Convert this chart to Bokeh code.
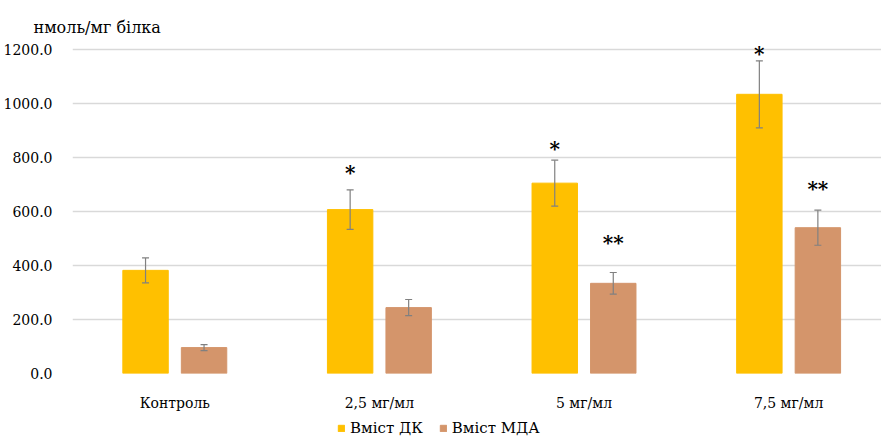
from bokeh.plotting import figure
from bokeh.layouts import column
from bokeh.models import (ColumnDataSource, Range1d, FixedTicker, NumeralTickFormatter,
                          Whisker, TeeHead, Legend, LegendItem, Title)
from bokeh.core.properties import value
from bokeh.embed import file_html
from bokeh.resources import INLINE

# Data: content of diene conjugates (DK) and malondialdehyde (MDA), nmol/mg protein
categories = ["Контроль", "2,5 мг/мл", "5 мг/мл", "7,5 мг/мл"]
series_names = ["Вміст ДК", "Вміст МДА"]
dk_values = [382, 607, 705, 1034]
dk_errors = [46, 73, 85, 124]
mda_values = [96, 244, 334, 540]
mda_errors = [11, 30, 40, 65]
dk_marks = ["", "*", "*", "*"]
mda_marks = ["", "", "**", "**"]
y_ticks = [0, 200, 400, 600, 800, 1000, 1200]

FONT = "DejaVu Serif"
YELLOW = "#FFC000"
TAN = "#D4956B"
ERR = "#808080"

n = len(categories)
centers = [i + 0.5 for i in range(n)]
shift = 0.143
bar_w = 0.222

dk_src = ColumnDataSource(dict(
    x=[c - shift for c in centers], top=dk_values,
    upper=[v + e for v, e in zip(dk_values, dk_errors)],
    lower=[v - e for v, e in zip(dk_values, dk_errors)],
    mark=dk_marks, off=[0, -17, -11, -7],
))
mda_src = ColumnDataSource(dict(
    x=[c + shift for c in centers], top=mda_values,
    upper=[v + e for v, e in zip(mda_values, mda_errors)],
    lower=[v - e for v, e in zip(mda_values, mda_errors)],
    mark=mda_marks, off=[0, 0, -30, -21],
))

p = figure(width=881, height=415, output_backend="svg", toolbar_location=None,
           x_range=Range1d(0, 3.954), y_range=Range1d(0, 1233.3),
           min_border_left=72, min_border_right=0, min_border_top=40,
           min_border_bottom=42)
p.outline_line_color = None
p.background_fill_color = "white"

p.title = Title(text="нмоль/мг білка", align="left", text_font=FONT,
                text_font_size="16px", text_font_style="normal",
                text_color="#000000", offset=-39, standoff=8)

p.vbar(x="x", top="top", width=bar_w, source=dk_src, fill_color=YELLOW,
       line_color=YELLOW)
p.vbar(x="x", top="top", width=bar_w, source=mda_src, fill_color=TAN,
       line_color=TAN)

for src in (dk_src, mda_src):
    w = Whisker(base="x", upper="upper", lower="lower", source=src,
                line_color=ERR, line_width=1.2, level="overlay",
                upper_head=TeeHead(size=7, line_color=ERR, line_width=1.2),
                lower_head=TeeHead(size=7, line_color=ERR, line_width=1.2))
    p.add_layout(w)
    p.text(x="x", y="upper", text="mark", source=src, y_offset="off",
           text_align="center", text_baseline="middle",
           text_font=value(FONT), text_font_size="20px", text_font_style="bold",
           text_color="#000000")

# axes
p.yaxis.ticker = FixedTicker(ticks=y_ticks)
p.yaxis.formatter = NumeralTickFormatter(format="0.0")
p.yaxis.axis_line_color = None
p.yaxis.major_tick_line_color = None
p.yaxis.minor_tick_line_color = None
p.yaxis.major_label_standoff = 14
p.yaxis.major_label_text_font = FONT
p.yaxis.major_label_text_font_size = "14px"
p.yaxis.major_label_text_color = "#000000"

p.xaxis.ticker = FixedTicker(ticks=centers)
p.xaxis.major_label_overrides = {c: lab for c, lab in zip(centers, categories)}
p.xaxis.axis_line_color = None
p.xaxis.major_tick_line_color = None
p.xaxis.minor_tick_line_color = None
p.xaxis.major_label_standoff = 15
p.xaxis.major_label_text_font = FONT
p.xaxis.major_label_text_font_size = "14px"
p.xaxis.major_label_text_color = "#000000"

p.xgrid.grid_line_color = None
p.ygrid.ticker = FixedTicker(ticks=y_ticks)
p.ygrid.grid_line_color = "#D9D9D9"
p.ygrid.grid_line_width = 1.3

# legend strip under the chart; its bars stay below the strip's visible range
leg = figure(width=881, height=22, output_backend="svg", toolbar_location=None,
             x_range=Range1d(0, 3.954), y_range=Range1d(5000, 5020),
             min_border_left=72, min_border_right=0, min_border_top=0,
             min_border_bottom=0)
leg.outline_line_color = None
leg.xaxis.visible = False
leg.yaxis.visible = False
leg.grid.visible = False
g_dk = leg.vbar(x="x", top="top", width=bar_w, source=dk_src,
                fill_color=YELLOW, line_color=YELLOW)
g_mda = leg.vbar(x="x", top="top", width=bar_w, source=mda_src,
                 fill_color=TAN, line_color=TAN)
legend = Legend(items=[LegendItem(label=series_names[0], renderers=[g_dk]),
                       LegendItem(label=series_names[1], renderers=[g_mda])],
                orientation="horizontal", location=(265, 0),
                label_text_font=FONT, label_text_font_size="15px",
                label_text_color="#000000",
                glyph_width=8, glyph_height=8, label_standoff=5, spacing=16,
                padding=2, margin=0, border_line_color=None,
                background_fill_alpha=0)
leg.add_layout(legend, "center")

open("out.html", "w").write(file_html(column(p, leg, spacing=0), INLINE))
